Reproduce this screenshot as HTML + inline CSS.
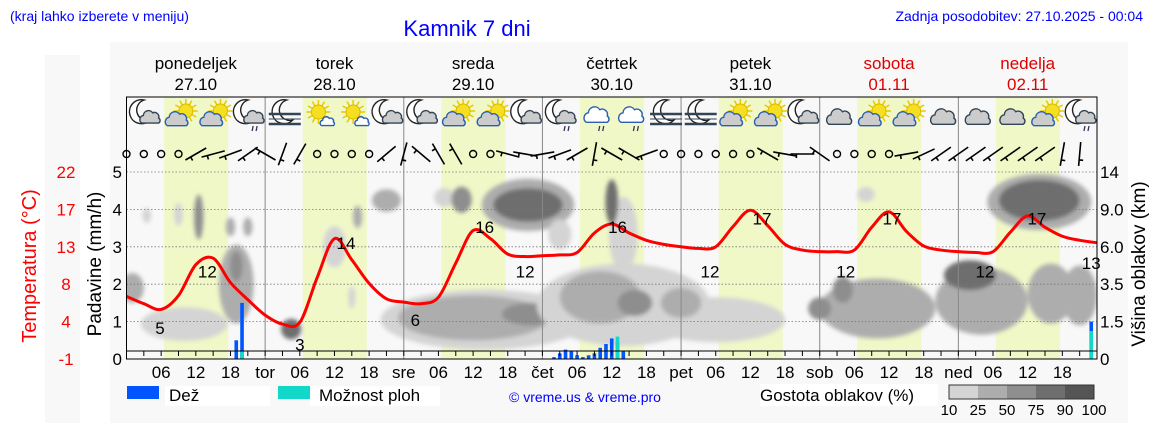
<!DOCTYPE html>
<html><head><meta charset="utf-8"><style>
body{margin:0;background:#fff;}
svg{display:block;font-family:"Liberation Sans",sans-serif;}
</style></head><body>
<svg id="c" width="1152" height="443" xmlns="http://www.w3.org/2000/svg">
<defs><filter id="bl" x="-50%" y="-50%" width="200%" height="200%"><feGaussianBlur stdDeviation="2"/></filter>
<clipPath id="pc"><rect x="126.5" y="160" width="970.5" height="199"/></clipPath></defs>
<rect x="45" y="55" width="35" height="368" fill="#f8f8f8"/>
<rect x="110" y="42" width="1018" height="381" fill="#f8f8f8"/>
<text x="10" y="21" font-size="14" fill="#0000ff">(kraj lahko izberete v meniju)</text>
<text x="467" y="36" font-size="22" fill="#0000ff" text-anchor="middle">Kamnik 7 dni</text>
<text x="1143" y="21" font-size="14" fill="#0000ff" text-anchor="end">Zadnja posodobitev: 27.10.2025 - 00:04</text>
<g id="bands"></g><g id="clouds" clip-path="url(#pc)" filter="url(#bl)"></g><g id="grid"></g><g id="icons"></g><g id="barbs"></g><g id="bars"></g><g id="temp"></g><g id="axes"></g>
<rect x="127" y="386" width="32" height="13" fill="#0055ff"/>
<rect x="165" y="386" width="105" height="20" fill="#fff"/>
<text x="169" y="401" font-size="17">Dež</text>
<rect x="278" y="386" width="32" height="13" fill="#11d8c8"/>
<rect x="310" y="386" width="130" height="20" fill="#fff"/>
<text x="319" y="401" font-size="17">Možnost ploh</text>
<text x="585" y="402" font-size="14" fill="#0000ff" text-anchor="middle">© vreme.us &amp; vreme.pro</text>
<rect x="760" y="384" width="178" height="22" fill="#fff"/>
<text x="760" y="401" font-size="17">Gostota oblakov (%)</text>
<g id="cbar"></g>
</svg>
<script>
const days=["ponedeljek","torek","sreda","četrtek","petek","sobota","nedelja"];
const dates=["27.10","28.10","29.10","30.10","31.10","01.11","02.11"];
const dayAbbr=["","tor","sre","čet","pet","sob","ned"];
const precipTicks=["0","1","2","3","4","5"];
const tempTicks=["-1","4","8","13","17","22"];
const cloudTicks=["0","1.5","3.5","6.0","9.0","14"];
const cloudKm=[0,1.5,3.5,6,9,14];
const tempHours=[0,3,6,9,12,15,18,21,24,27,30,33,36,39,42,45,48,51,54,57,60,63,66,69,72,75,78,81,84,87,90,93,96,99,102,105,108,111,114,117,120,123,126,129,132,135,138,141,144,147,150,153,156,159,162,165,168];
const tempVals=[6.7,5.8,5.1,6.8,10.6,11.4,8.4,6.3,4.4,3.3,3.5,9.0,13.8,11.2,8.3,6.4,6.0,5.8,6.6,10.8,14.8,13.8,11.9,11.6,11.7,11.8,12.1,14.5,15.6,14.5,13.6,13.1,12.8,12.6,12.8,15.3,17.3,15.4,13.1,12.4,12.2,12.2,12.4,15.2,17.1,14.7,12.9,12.4,12.2,12.1,12.2,14.6,16.6,15.2,14.1,13.6,13.3];
const labelHours=[5.8,14,30,38,50,62,69,85,101,110,124.5,132.5,148.6,157.6,167];
const labelVals=[5,12,3,14,6,16,12,16,12,17,12,17,12,17,13];
const rainHours=[19,20,74,75,76,77,78,79,80,81,82,83,84,85,86,167];
const rainMm=[0.5,1.5,0.05,0.15,0.25,0.2,0.1,0.05,0.1,0.15,0.3,0.4,0.55,0.45,0.2,1.0];
const showerHours=[20,85,167];
const showerMm=[0.2,0.6,0.75];
// cloud blobs: hour, km, width(h), height(levels), density class
const cloudHour=[1,10,19,19,3.5,9,12.5,18,21,28.5,36,39,40,62,60,70,45,55,58,69.5,69.5,86,82,88,86,84,75,102,96,130,148,120,124,146,128,158,158,160,165];
const cloudKmC=[3.3,1.4,3.5,4.7,8.5,8.6,8.4,7.6,7.6,1.2,6.0,2.8,8.4,1.6,1.7,1.9,10.2,10.6,10.3,9.6,9.6,2.4,2.8,2.5,7.0,10.0,7.0,1.6,2.5,2.2,2.6,2.2,3.2,4.1,11,10,10.2,3.0,2.9];
const cloudW=[4,15,6,2.2,1.5,1.5,1.6,1.6,1.6,3.5,4,1.2,1.6,36,26,10,5,3.5,3.5,16,12,30,14,6,5,2.2,4,24,7,20,16,4,3.5,9,3,18,14,8,6];
const cloudH=[0.8,0.9,2.1,0.8,0.4,0.6,1.2,0.5,0.5,0.55,1.1,0.6,0.6,1.6,1.2,0.6,0.6,0.5,0.7,1.4,0.9,2.2,1.4,0.7,2.0,1.2,0.8,1.2,0.8,1.6,1.8,0.6,0.7,0.8,0.4,1.5,1.1,1.6,1.6];
const cloudD=[2,1,2,3,1,1,3,2,2,4,1,1,2,1,2,3,2,1,3,2,4,1,2,3,1,4,1,1,2,2,2,3,3,4,1,2,4,2,2];
const iconTypes=["mc","sc","sc","mcr","fm","ss","ss","mc","mc","sc","sc","mc","mcr","cr","cr","fm","fm","sc","sc","mc","c","sc","sc","c","c","c","sc","mcr"];
const windAng=[null,null,null,null,30,15,20,35,-30,70,60,null,null,null,null,40,75,-40,-60,-60,null,null,-15,-10,10,20,30,80,-30,-30,20,null,null,null,null,null,null,-30,-10,0,-35,null,null,null,null,10,25,35,35,35,35,35,35,35,80,85];
const densCol=["#ffffff","#d4d4d4","#adadad","#8e8e8e","#6e6e6e","#555555"];

const NS="http://www.w3.org/2000/svg";
const X0=126.5,X1=1097,YB=359,YT=172,LV=(YB-YT)/5;
const X=h=>X0+h*(X1-X0)/168;
const yP=v=>YB-v*LV;
const yTemp=t=>YB-(t+1)*(YB-YT)/23;
function kmToLevel(k){for(let i=0;i<5;i++){if(k<=cloudKm[i+1])return i+(k-cloudKm[i])/(cloudKm[i+1]-cloudKm[i]);}return 5;}
function mk(tag,attrs,parent){const e=document.createElementNS(NS,tag);for(const k in attrs)e.setAttribute(k,attrs[k]);document.getElementById(parent).appendChild(e);return e;}

let r=mk('rect',{x:X0,y:97,width:X1-X0,height:YB-97,fill:'#f8f8f8'},'bands');


for(let d=0;d<7;d++){
  let b=mk('rect',{x:X(d*24+6.5),y:97,width:X(17.6)-X(6.5),height:YB-97,fill:'#f0f8c8'},'bands');
  
  
  let t=mk('text',{x:X(d*24+12),y:69,'font-size':17,'text-anchor':'middle',fill:d>=5?'#e00000':'#000'},'axes');t.textContent=days[d];
  
  
  let t2=mk('text',{x:X(d*24+12),y:90,'font-size':17,'text-anchor':'middle',fill:d>=5?'#e00000':'#000'},'axes');t2.textContent=dates[d];
  
  
}
for(let i=0;i<cloudHour.length;i++){
  const L=kmToLevel(cloudKmC[i]);
  let e=mk('ellipse',{cx:X(cloudHour[i]),cy:YB-L*LV,rx:(X(cloudW[i])-X0)/2,ry:cloudH[i]*LV/2,fill:densCol[cloudD[i]]},'clouds');
  
  
}
for(let i=1;i<=5;i++){let l=mk('line',{x1:X0,x2:X1,y1:yP(i),y2:yP(i),stroke:'#777','stroke-dasharray':'1.5,2','stroke-width':0.8},'grid');
 
 }
for(let d=1;d<7;d++){let l=mk('line',{x1:X(d*24),x2:X(d*24),y1:97,y2:YB,stroke:'#888','stroke-width':1},'grid');
 
 }
function icon(type,cx){
  const g=mk('g',{transform:`translate(${cx},116)`},'icons');
  
  
  const add=(tag,a)=>{const e=document.createElementNS(NS,tag);for(const k in a)e.setAttribute(k,a[k]);g.appendChild(e);};
  const cloud=(dx,dy,s,fill,st)=>add('path',{d:`M${dx-10*s},${dy+6*s} a${5*s},${5*s} 0 0 1 ${2*s},${-9*s} a${6*s},${6*s} 0 0 1 ${11*s},${-3*s} a${5*s},${5*s} 0 0 1 ${7*s},${6*s} a${3.5*s},${3.5*s} 0 0 1 0,${6*s} z`,fill:fill,stroke:st,'stroke-width':1.4});
  const moon=(dx,dy)=>add('path',{d:`M${dx+2},${dy-14} a12,12 0 1 0 6,20 a10,10 0 1 1 -6,-20 z`,fill:'#fff',stroke:'#222','stroke-width':1.4});
  const sun=(dx,dy)=>{for(let a=0;a<360;a+=30){const rr=a*Math.PI/180;add('line',{x1:dx+Math.cos(rr)*7,y1:dy+Math.sin(rr)*7,x2:dx+Math.cos(rr)*12,y2:dy+Math.sin(rr)*12,stroke:'#e8c800','stroke-width':1.5});}add('circle',{cx:dx,cy:dy,r:7,fill:'#f4e020',stroke:'#e0b800'});};
  const rain=()=>{add('line',{x1:3,y1:10,x2:2,y2:15,stroke:'#335','stroke-width':1.3});add('line',{x1:7,y1:10,x2:6,y2:15,stroke:'#335','stroke-width':1.3});};
  if(type==='mc'||type==='mcr'){moon(-4,-2);cloud(4,2,0.85,'#ccc','#345');if(type==='mcr')rain();}
  if(type==='sc'){sun(5,-5);cloud(-4,4,0.95,'#ccc','#2a5fb0');}
  if(type==='ss'){sun(-1,-4);cloud(8,6,0.6,'#fff','#2a5fb0');}
  if(type==='fm'){moon(0,-2);for(const y of [-2,3,8])add('line',{x1:-16,x2:16,y1:y,y2:y,stroke:'#345','stroke-width':y===3?1:2.5});}
  if(type==='c'){cloud(0,2,1.05,'#ccc','#345');}
  if(type==='cr'){cloud(0,0,1.05,'#fff','#2a5fb0');rain();}
}
iconTypes.forEach((t,i)=>icon(t,X(i*6+3.4)));
windAng.forEach((a,i)=>{
  const cx=X(i*3);
  if(a===null){let c=mk('circle',{cx:cx,cy:154,r:3.5,fill:'none',stroke:'#000','stroke-width':1.4},'barbs');
    
    return;}
  const rr=a*Math.PI/180,L=12,dx=Math.cos(rr)*L,dy=-Math.sin(rr)*L;
  let p=mk('path',{d:`M${cx-dx},${154-dy} L${cx+dx},${154+dy} M${cx-dx*0.5},${154-dy*0.5} l${Math.sin(rr)*4},${Math.cos(rr)*4}`,stroke:'#000','stroke-width':1.6,fill:'none'},'barbs');
  
  
});
rainHours.forEach((h,i)=>{let b=mk('rect',{x:X(h)-1.8,y:yP(rainMm[i]),width:3.6,height:YB-yP(rainMm[i]),fill:'#0055ff'},'bars');
  
  });
showerHours.forEach((h,i)=>{let b=mk('rect',{x:X(h)-1.8,y:yP(showerMm[i]),width:3.6,height:YB-yP(showerMm[i]),fill:'#11d8c8'},'bars');
  
  });
const pts=tempHours.map((h,i)=>[X(h),yTemp(tempVals[i])]);
let d=`M${pts[0][0]},${pts[0][1]}`;
for(let i=0;i<pts.length-1;i++){const p0=pts[Math.max(0,i-1)],p1=pts[i],p2=pts[i+1],p3=pts[Math.min(pts.length-1,i+2)];
  d+=` C${p1[0]+(p2[0]-p0[0])/6},${p1[1]+(p2[1]-p0[1])/6} ${p2[0]-(p3[0]-p1[0])/6},${p2[1]-(p3[1]-p1[1])/6} ${p2[0]},${p2[1]}`;}
let tp=mk('path',{d:d,fill:'none',stroke:'#ff0000','stroke-width':3},'temp');


labelHours.forEach((h,i)=>{const v=labelVals[i];let t=mk('text',{x:X(h),y:yTemp(v)+(v>=14?12:24),'font-size':17,'text-anchor':'middle'},'temp');t.textContent=v;
  
  });
let fr=mk('rect',{x:X0,y:97,width:X1-X0,height:YB-97,fill:'none',stroke:'#000','stroke-width':1},'axes');


mk('line',{x1:X0,x2:X1,y1:351,y2:351,stroke:'#000'},'axes');
for(let h=3;h<168;h+=3){mk('line',{x1:X(h),x2:X(h),y1:351,y2:356,stroke:'#000'},'axes');}
for(let dd=0;dd<7;dd++){[6,12,18].forEach(hh=>{let t=mk('text',{x:X(dd*24+hh),y:378,'font-size':17,'text-anchor':'middle'},'axes');t.textContent=String(hh).padStart(2,'0');
  
  });
 if(dd>0){let t=mk('text',{x:X(dd*24),y:378,'font-size':17,'text-anchor':'middle'},'axes');t.textContent=dayAbbr[dd];
  
  }}
for(let i=0;i<6;i++){
  let a=mk('text',{x:122,y:yP(i)+6,'font-size':17,'text-anchor':'end'},'axes');a.textContent=precipTicks[i];
  
  
  let b=mk('text',{x:66,y:yP(i)+6,'font-size':17,'text-anchor':'middle',fill:'#ff0000'},'axes');b.textContent=tempTicks[i];
  
  
  let c=mk('text',{x:1100,y:yP(i)+6,'font-size':17},'axes');c.textContent=cloudTicks[i];
  
  
}
let at=mk('text',{x:0,y:0,'font-size':20,'text-anchor':'middle',fill:'#ff0000',transform:'translate(36,266) rotate(-90)'},'axes');at.textContent='Temperatura (°C)';


let pt=mk('text',{x:0,y:0,'font-size':19,'text-anchor':'middle',transform:'translate(101,264) rotate(-90)'},'axes');pt.textContent='Padavine (mm/h)';


let ct=mk('text',{x:0,y:0,'font-size':19,'text-anchor':'middle',transform:'translate(1145,264) rotate(-90)'},'axes');ct.textContent='Višina oblakov (km)';


const cbLabels=["10","25","50","75","90","100"];
for(let i=0;i<5;i++){let s=mk('rect',{x:949+i*29,y:385,width:29,height:14,fill:densCol[i+1]},'cbar');
  
  }
mk('rect',{x:949,y:385,width:145,height:14,fill:'none',stroke:'#333'},'cbar');
cbLabels.forEach((l,i)=>{let t=mk('text',{x:949+i*29,y:415,'font-size':15,'text-anchor':'middle'},'cbar');t.textContent=l;
  
  });
</script>
</body></html>
